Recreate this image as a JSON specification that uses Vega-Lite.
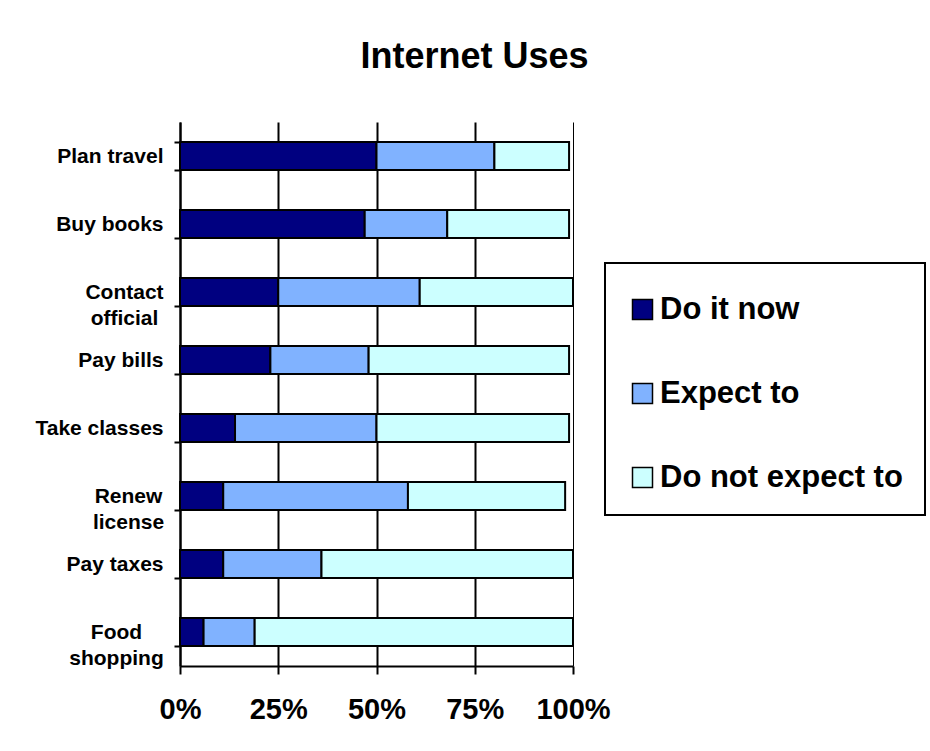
{
  "$schema": "https://vega.github.io/schema/vega-lite/v6.json",
  "autosize": {"type": "none"},
  "padding": {"left": 180, "top": 122, "right": 357, "bottom": 85},
  "width": 393,
  "height": 544,
  "background": "white",
  "title": {
    "text": "Internet Uses",
    "font": "Liberation Sans",
    "fontSize": 36,
    "fontWeight": "bold",
    "color": "black",
    "anchor": "middle",
    "dx": 98,
    "offset": 35
  },
  "config": {
    "view": {"stroke": null},
    "font": "Liberation Sans"
  },
  "data": {
    "values": [
      {"category": "Plan travel", "status": "Do it now", "percent": 50},
      {"category": "Plan travel", "status": "Expect to", "percent": 30},
      {"category": "Plan travel", "status": "Do not expect to", "percent": 19},
      {"category": "Buy books", "status": "Do it now", "percent": 47},
      {"category": "Buy books", "status": "Expect to", "percent": 21},
      {"category": "Buy books", "status": "Do not expect to", "percent": 31},
      {"category": "Contact official", "status": "Do it now", "percent": 25},
      {"category": "Contact official", "status": "Expect to", "percent": 36},
      {"category": "Contact official", "status": "Do not expect to", "percent": 39},
      {"category": "Pay bills", "status": "Do it now", "percent": 23},
      {"category": "Pay bills", "status": "Expect to", "percent": 25},
      {"category": "Pay bills", "status": "Do not expect to", "percent": 51},
      {"category": "Take classes", "status": "Do it now", "percent": 14},
      {"category": "Take classes", "status": "Expect to", "percent": 36},
      {"category": "Take classes", "status": "Do not expect to", "percent": 49},
      {"category": "Renew license", "status": "Do it now", "percent": 11},
      {"category": "Renew license", "status": "Expect to", "percent": 47},
      {"category": "Renew license", "status": "Do not expect to", "percent": 40},
      {"category": "Pay taxes", "status": "Do it now", "percent": 11},
      {"category": "Pay taxes", "status": "Expect to", "percent": 25},
      {"category": "Pay taxes", "status": "Do not expect to", "percent": 64},
      {"category": "Food shopping", "status": "Do it now", "percent": 6},
      {"category": "Food shopping", "status": "Expect to", "percent": 13},
      {"category": "Food shopping", "status": "Do not expect to", "percent": 81}
    ]
  },
  "transform": [
    {"calculate": "indexof(['Do it now', 'Expect to', 'Do not expect to'], datum.status)", "as": "stackOrder"}
  ],
  "mark": {"type": "bar", "stroke": "black", "strokeWidth": 2},
  "encoding": {
    "y": {
      "field": "category",
      "type": "nominal",
      "sort": null,
      "scale": {"paddingInner": 0.588, "paddingOuter": 0.294},
      "axis": {
        "title": null,
        "domainColor": "black",
        "domainWidth": 2,
        "ticks": true,
        "tickBand": "extent",
        "tickSize": 6,
        "tickColor": "black",
        "tickWidth": 2,
        "grid": false,
        "labelFont": "Liberation Sans",
        "labelFontWeight": "bold",
        "labelFontSize": 21,
        "labelColor": "black",
        "labelLineHeight": 26,
        "labelLimit": 300,
        "labelAlign": {
          "condition": {"test": "datum.value == 'Contact official' || datum.value == 'Renew license' || datum.value == 'Food shopping'", "value": "center"},
          "value": "right"
        },
        "labelPadding": {
          "condition": [
            {"test": "datum.value == 'Contact official'", "value": 50},
            {"test": "datum.value == 'Renew license'", "value": 46},
            {"test": "datum.value == 'Food shopping'", "value": 58}
          ],
          "value": 11
        },
        "labelExpr": "datum.label == 'Contact official' ? ['Contact', 'official'] : datum.label == 'Renew license' ? ['Renew', 'license'] : datum.label == 'Food shopping' ? ['Food', 'shopping'] : datum.label"
      }
    },
    "x": {
      "field": "percent",
      "type": "quantitative",
      "aggregate": "sum",
      "stack": "zero",
      "scale": {"domain": [0, 100], "nice": false},
      "axis": {
        "title": null,
        "values": [0, 25, 50, 75, 100],
        "labelExpr": "datum.value + '%'",
        "grid": true,
        "gridColor": "black",
        "gridWidth": {"condition": {"test": "datum.value == 100", "value": 1}, "value": 2},
        "domainColor": "black",
        "domainWidth": 2,
        "tickColor": "black",
        "tickWidth": 2,
        "tickSize": 8,
        "labelFont": "Liberation Sans",
        "labelFontWeight": "bold",
        "labelFontSize": 29,
        "labelColor": "black",
        "labelPadding": 21,
        "labelFlush": false,
        "labelOverlap": false
      }
    },
    "color": {
      "field": "status",
      "type": "nominal",
      "sort": ["Do it now", "Expect to", "Do not expect to"],
      "scale": {
        "domain": ["Do it now", "Expect to", "Do not expect to"],
        "range": ["#000080", "#80B2FF", "#CCFFFF"]
      },
      "legend": {
        "title": " ",
        "titleFontSize": 2,
        "titlePadding": 7,
        "orient": "none",
        "legendX": 425,
        "legendY": 141,
        "strokeColor": "black",
        "fillColor": "white",
        "padding": 22,
        "symbolType": "square",
        "symbolSize": 400,
        "symbolStrokeColor": "black",
        "symbolStrokeWidth": 1.5,
        "symbolOpacity": 1,
        "labelFont": "Liberation Sans",
        "labelFontSize": 31,
        "labelFontWeight": "bold",
        "labelColor": "black",
        "labelOffset": 2,
        "labelLimit": 400,
        "rowPadding": 52,
        "encode": {
          "legend": {"update": {"strokeWidth": {"value": 2}}}
        }
      }
    },
    "order": {"field": "stackOrder", "type": "quantitative"}
  }
}
